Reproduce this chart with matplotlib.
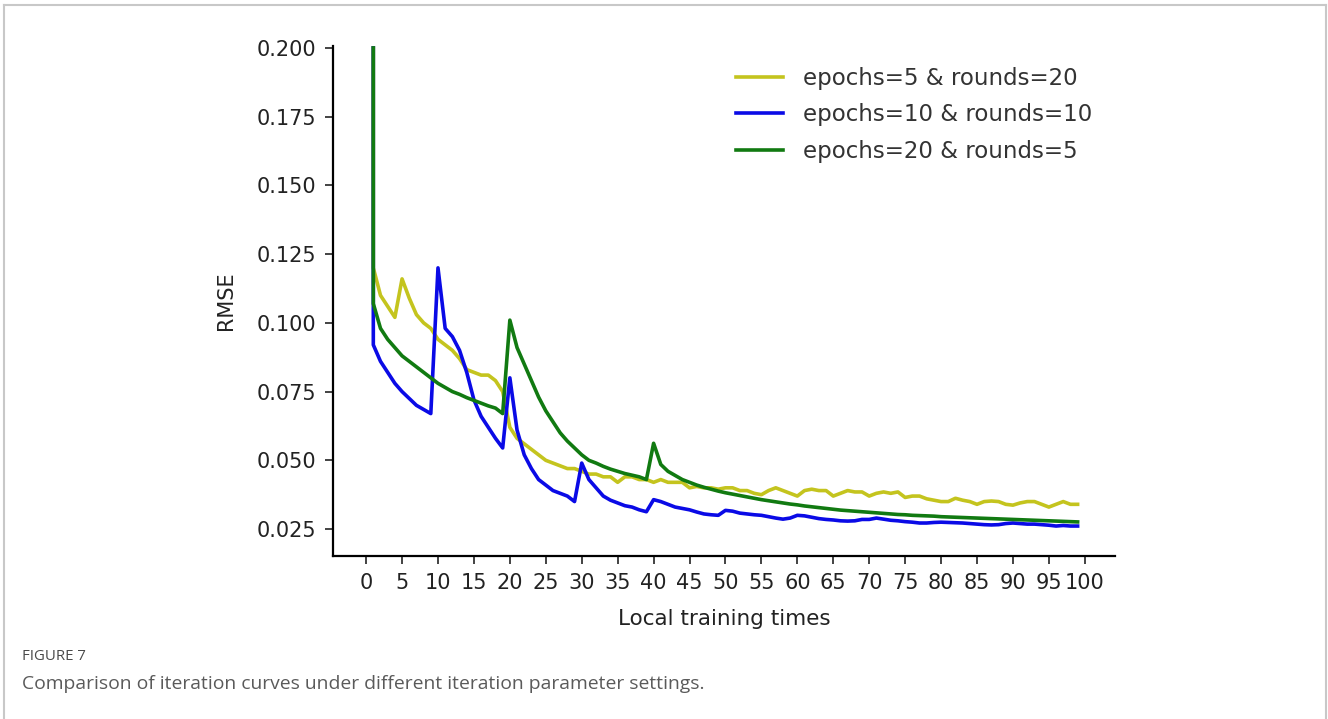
import numpy as np
import matplotlib
matplotlib.use("Agg")
import matplotlib.pyplot as plt
from matplotlib.lines import Line2D

# local training times 1..99, every run starts from the same initial RMSE
steps = np.arange(1, 100)
init_rmse = 0.2

rmse_e5_r20 = [
    0.120, 0.110, 0.106, 0.102, 0.116, 0.109, 0.103, 0.100, 0.098, 0.094,
    0.092, 0.090, 0.087, 0.083, 0.082, 0.081, 0.081, 0.079, 0.075, 0.062,
    0.058, 0.056, 0.054, 0.052, 0.050, 0.049, 0.048, 0.047, 0.047, 0.046,
    0.045, 0.045, 0.044, 0.044, 0.042, 0.044, 0.044, 0.043, 0.043, 0.042,
    0.043, 0.042, 0.042, 0.042, 0.040, 0.0405, 0.040, 0.040, 0.0395, 0.040,
    0.040, 0.039, 0.039, 0.038, 0.0375, 0.039, 0.040, 0.039, 0.038, 0.037,
    0.039, 0.0395, 0.039, 0.039, 0.037, 0.038, 0.039, 0.0385, 0.0385, 0.037,
    0.038, 0.0385, 0.038, 0.0385, 0.0365, 0.037, 0.037, 0.036, 0.0355, 0.035,
    0.035, 0.0362, 0.0355, 0.035, 0.034, 0.035, 0.0352, 0.035, 0.034, 0.0337,
    0.0345, 0.035, 0.035, 0.034, 0.033, 0.034, 0.035, 0.034, 0.034,
]

rmse_e10_r10 = [
    0.092, 0.086, 0.082, 0.078, 0.075, 0.0725, 0.070, 0.0685, 0.067, 0.120,
    0.098, 0.095, 0.090, 0.082, 0.072, 0.066, 0.062, 0.058, 0.0545, 0.080,
    0.061, 0.052, 0.047, 0.043, 0.041, 0.039, 0.038, 0.037, 0.035, 0.049,
    0.043, 0.040, 0.037, 0.0355, 0.0345, 0.0335, 0.033, 0.032, 0.0313, 0.0357,
    0.035, 0.034, 0.033, 0.0325, 0.032, 0.0312, 0.0305, 0.0302, 0.030, 0.0318,
    0.0315, 0.0308, 0.0305, 0.0302, 0.030, 0.0295, 0.029, 0.0286, 0.029, 0.030,
    0.0298, 0.0293, 0.0288, 0.0285, 0.0283, 0.028, 0.0279, 0.028, 0.0285, 0.0285,
    0.029, 0.0286, 0.0282, 0.028, 0.0277, 0.0275, 0.0272, 0.0272, 0.0274, 0.0275,
    0.0274, 0.0273, 0.0272, 0.027, 0.0268, 0.0266, 0.0265, 0.0266, 0.027, 0.0272,
    0.027, 0.0268, 0.0268, 0.0266, 0.0264, 0.0261, 0.0263, 0.0261, 0.0261,
]

rmse_e20_r5 = [
    0.107, 0.098, 0.094, 0.091, 0.088, 0.086, 0.084, 0.082, 0.080, 0.078,
    0.0765, 0.075, 0.074, 0.0728, 0.0718, 0.0708, 0.0698, 0.069, 0.067, 0.101,
    0.091, 0.085, 0.079, 0.073, 0.068, 0.064, 0.060, 0.057, 0.0545, 0.052,
    0.050, 0.049, 0.0478, 0.0468, 0.046, 0.0452, 0.0446, 0.044, 0.043, 0.0562,
    0.0485, 0.046, 0.0445, 0.043, 0.042, 0.041, 0.0402, 0.0395, 0.0388, 0.0382,
    0.0377, 0.0372, 0.0367, 0.0362, 0.0357, 0.0353, 0.0349, 0.0345, 0.0341, 0.0338,
    0.0334, 0.0331, 0.0328, 0.0325, 0.0322, 0.0319, 0.0317, 0.0315, 0.0313, 0.0311,
    0.0309, 0.0307, 0.0305, 0.0303, 0.0302, 0.030, 0.0299, 0.0298, 0.0297, 0.0295,
    0.0294, 0.0293, 0.0292, 0.0291, 0.029, 0.0289, 0.0288, 0.0287, 0.0286, 0.0285,
    0.0284, 0.0283, 0.0282, 0.0281, 0.028, 0.0279, 0.0278, 0.0277, 0.0276,
]

labels = ["epochs=5 & rounds=20", "epochs=10 & rounds=10", "epochs=20 & rounds=5"]
colors = ["#c4c41e", "#0a0ae6", "#117a11"]
series = [rmse_e5_r20, rmse_e10_r10, rmse_e20_r5]

fig = plt.figure(figsize=(13.28, 7.19), dpi=100)
ax = fig.add_axes([0.2508, 0.2267, 0.5888, 0.7093])

x_plot = np.concatenate([[steps[0]], steps])
for y, c, lab in zip(series, colors, labels):
    ax.plot(x_plot, np.concatenate([[init_rmse], y]), color=c, lw=2.6, label=lab)

ax.set_xlim(-4.6, 104.2)
ax.set_ylim(0.0152, 0.2007)
ax.set_xticks(np.arange(0, 101, 5))
ax.set_yticks([0.025, 0.05, 0.075, 0.1, 0.125, 0.15, 0.175, 0.2])
ax.yaxis.set_major_formatter(matplotlib.ticker.FormatStrFormatter('%.3f'))
ax.tick_params(labelsize=15, length=6, width=1.2, colors='#222222', pad=6)
ax.spines['top'].set_visible(False)
ax.spines['right'].set_visible(False)
for s in ['left', 'bottom']:
    ax.spines[s].set_linewidth(1.6)
ax.set_xlabel("Local training times", fontsize=15.5, color='#222222', labelpad=12)
ax.set_ylabel("RMSE", fontsize=15, color='#222222', labelpad=15)

leg = ax.legend(loc='upper right', frameon=False, fontsize=16.5, handlelength=2.05,
                handletextpad=0.85, borderaxespad=0.5, labelspacing=0.6,
                bbox_to_anchor=(0.997, 1.0))
for t in leg.get_texts():
    t.set_color('#333333')

# outer frame of the figure panel
frame_kw = dict(color='#c8c8c8', lw=1.5, transform=fig.transFigure)
fig.add_artist(Line2D([4 / 1328, 1326 / 1328], [1 - 5 / 719, 1 - 5 / 719], **frame_kw))
fig.add_artist(Line2D([4 / 1328, 4 / 1328], [0, 1 - 5 / 719], **frame_kw))
fig.add_artist(Line2D([1326 / 1328, 1326 / 1328], [0, 1 - 5 / 719], **frame_kw))

fig.text(22 / 1328, 1 - 657 / 719, "FIGURE 7", fontsize=10.8, family='Open Sans',
         color='#4a4a4a', va='center', ha='left')
fig.text(22 / 1328, 1 - 684 / 719,
         "Comparison of iteration curves under different iteration parameter settings.",
         fontsize=13.9, family='Open Sans', color='#5a5a5a', va='center', ha='left')

fig.savefig("out.png", dpi=100)
